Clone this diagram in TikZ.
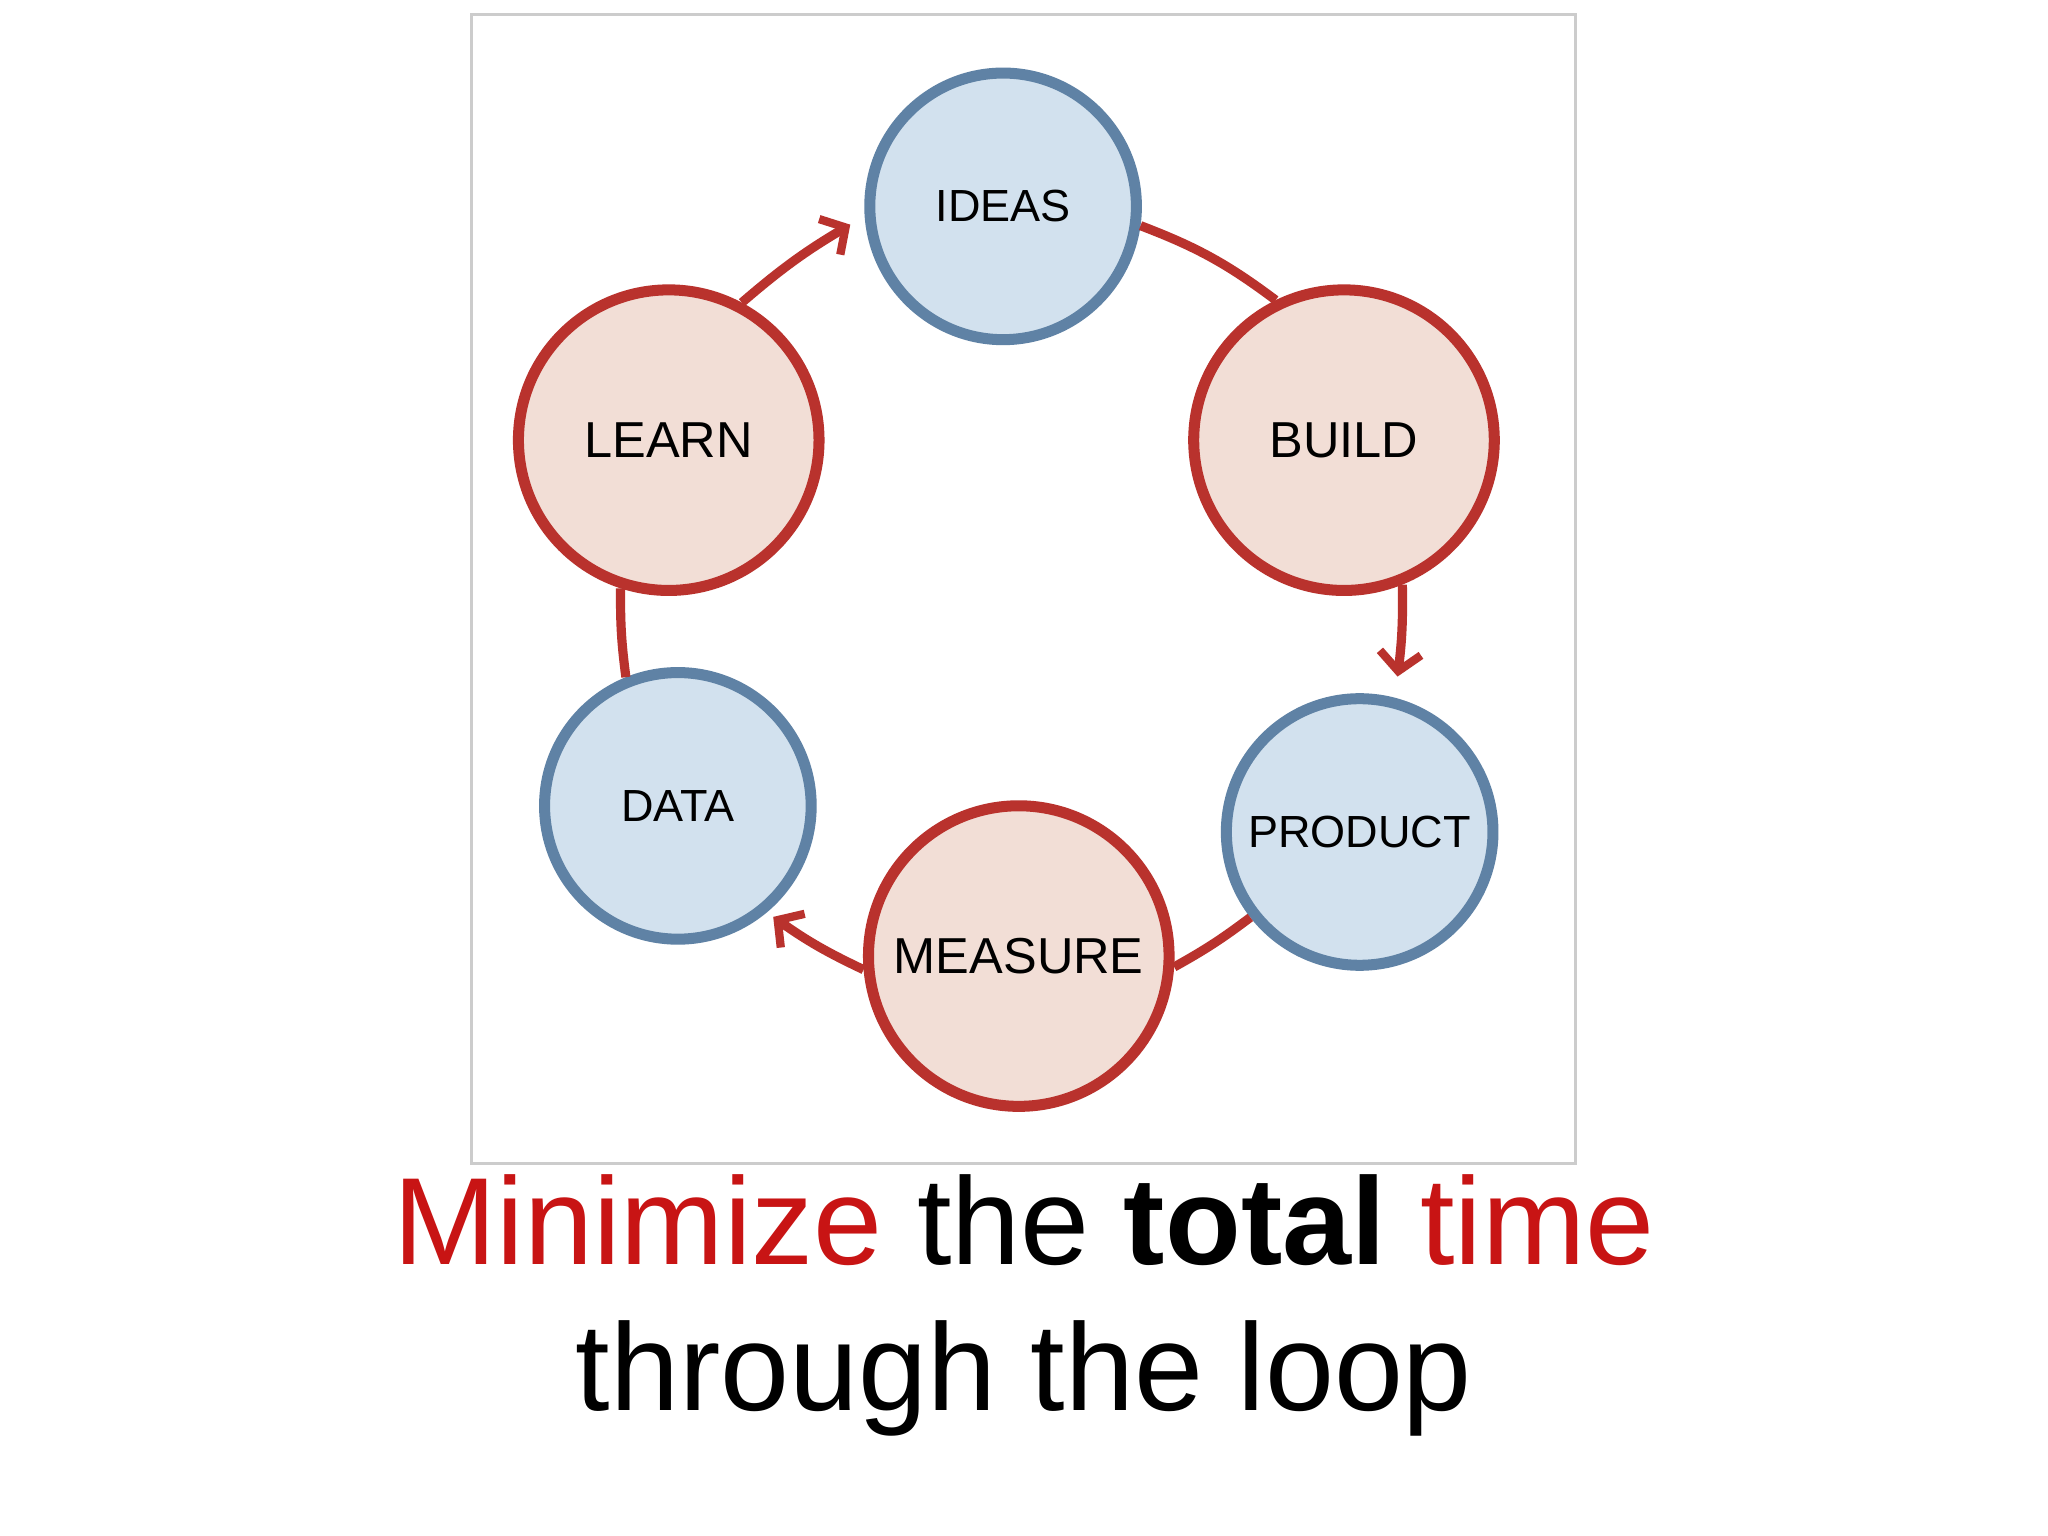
\documentclass[tikz,border=0pt]{standalone}
\usepackage{fontspec}
\setmainfont{Liberation Sans}
\usetikzlibrary{arrows.meta}
\definecolor{rd}{RGB}{185,50,45}
\definecolor{rfill}{RGB}{242,222,214}
\definecolor{bl}{RGB}{95,130,165}
\definecolor{bfill}{RGB}{210,225,238}
\definecolor{tred}{RGB}{200,20,20}
\begin{document}
\begin{tikzpicture}[x=0.01cm,y=-0.01cm,
  redc/.style={circle,draw=rd,fill=rfill,line width=2.4pt,inner sep=0pt,minimum size=2.3cm,font=\fontsize{11}{13}\selectfont},
  bluec/.style={circle,draw=bl,fill=bfill,line width=2.4pt,inner sep=0pt,minimum size=2.04cm,font=\fontsize{9.8}{12}\selectfont},
  link/.style={draw=rd,line width=2pt},
  arr/.style={link,-{Straight Barb[length=4pt,width=9pt,line width=1.8pt]}}]
\useasboundingbox (0,0) rectangle (1568,1176);
\fill[white] (0,0) rectangle (1568,1176);
\draw[gray!40,line width=0.6pt] (361,11) rectangle (1206,891);
\node[bluec] (ideas) at (768,158) {IDEAS};
\node[redc] (build) at (1029,337) {BUILD};
\node[bluec] (product) at (1041,637) {PRODUCT};
\node[redc] (measure) at (780,732) {MEASURE};
\node[bluec] (data) at (519,617) {DATA};
\node[redc] (learn) at (512,337) {LEARN};
\coordinate (bp) at (1070,518);
\coordinate (md) at (592,702);
\coordinate (li) at (651,172);
\draw[link] (ideas.-8) to[bend left=8] (build.116);
\draw[arr] (build.-68) to[bend left=4] (bp);
\draw[link] (product.-142) to[bend left=4] (measure.-4);
\draw[arr] (measure.-175) to[bend left=5] (md);
\draw[link] (data.112) to[bend left=4] (learn.-108);
\draw[arr] (learn.62) to[bend left=5] (li);
\node[font=\fontsize{27}{32}\selectfont,anchor=base] (l1) at (784,968) {\textcolor{tred}{Minimize} the \textbf{total} \textcolor{tred}{time}};
\node[font=\fontsize{27}{32}\selectfont,anchor=base] (l2) at (784,1080) {through the loop};
\end{tikzpicture}
\end{document}
